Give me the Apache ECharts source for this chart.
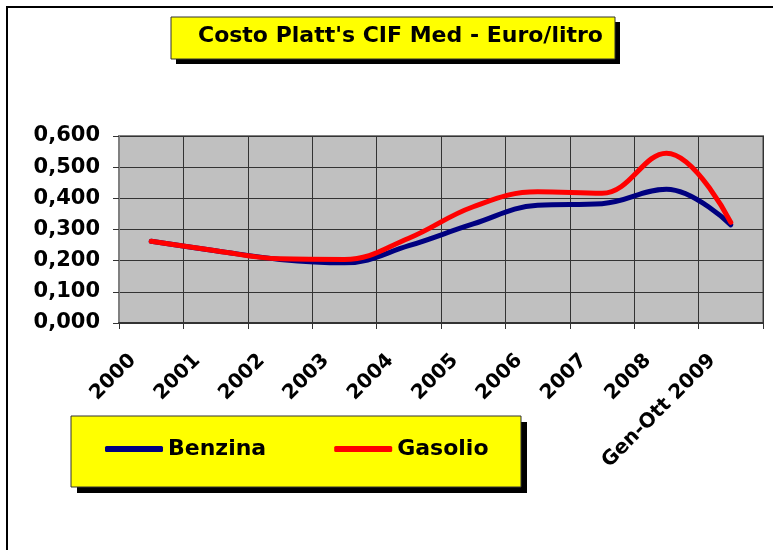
<!DOCTYPE html>
<html>
<head>
<meta charset="utf-8">
<script src="https://cdn.jsdelivr.net/npm/echarts@6/dist/echarts.min.js"></script>
<style>
  html, body { margin: 0; padding: 0; background: #fff; }
  #chart { width: 773px; height: 550px; }
</style>
</head>
<body>
<div id="chart"></div>
<script>
const years = ['2000', '2001', '2002', '2003', '2004', '2005', '2006', '2007', '2008', 'Gen-Ott 2009'];
const benzina = [0.262, 0.232, 0.204, 0.193, 0.248, 0.318, 0.378, 0.383, 0.429, 0.315];
const gasolio = [0.262, 0.232, 0.206, 0.204, 0.272, 0.373, 0.421, 0.416, 0.545, 0.323];
const yTicks = { min: 0, max: 0.6, step: 0.1 };

const FONT = '"DejaVu Sans", Verdana, sans-serif';
const chart = echarts.init(document.getElementById('chart'));

chart.setOption({
  animation: false,
  backgroundColor: '#fff',
  graphic: [
    // cornice esterna
    { type: 'rect', shape: { x: 7, y: 7, width: 820, height: 600 }, style: { fill: 'none', stroke: '#000', lineWidth: 2 }, z: -10 },
    // box titolo con ombra
    { type: 'rect', shape: { x: 176, y: 22, width: 444, height: 42 }, style: { fill: '#000' }, z: -5 },
    { type: 'rect', shape: { x: 171, y: 17, width: 444, height: 42 }, style: { fill: '#FFFF00', stroke: '#333', lineWidth: 1 }, z: -4 },
    // box legenda con ombra
    { type: 'rect', shape: { x: 77, y: 422, width: 450, height: 71 }, style: { fill: '#000' }, z: -5 },
    { type: 'rect', shape: { x: 71, y: 416, width: 450, height: 71 }, style: { fill: '#FFFF00', stroke: '#333', lineWidth: 1 }, z: -4 }
  ],
  title: {
    text: "Costo Platt's CIF Med - Euro/litro",
    left: 198,
    top: 25,
    padding: 0,
    textStyle: { fontFamily: FONT, fontSize: 22, fontWeight: 'bold', color: '#000' }
  },
  legend: {
    left: 105,
    top: 438,
    padding: 0,
    itemWidth: 58,
    itemHeight: 6,
    itemGap: 68,
    icon: 'roundRect',
    data: ['Benzina', 'Gasolio'],
    textStyle: { fontFamily: FONT, fontSize: 22, fontWeight: 'bold', color: '#000' }
  },
  grid: {
    left: 119,
    right: 10,
    top: 136,
    bottom: 227,
    show: true,
    backgroundColor: '#C0C0C0',
    borderColor: '#808080',
    borderWidth: 2
  },
  xAxis: {
    type: 'category',
    data: years,
    boundaryGap: true,
    axisLine: { lineStyle: { color: '#333', width: 2 } },
    axisTick: { show: true, length: 6, lineStyle: { color: '#333' } },
    splitLine: { show: true, lineStyle: { color: '#333', width: 1 } },
    axisLabel: {
      interval: 0,
      rotate: 45,
      margin: 16,
      padding: [0, 26, 0, 0],
      fontFamily: FONT,
      fontSize: 20,
      fontWeight: 'bold',
      color: '#000'
    }
  },
  yAxis: {
    type: 'value',
    min: yTicks.min,
    max: yTicks.max,
    interval: yTicks.step,
    axisLine: { show: true, lineStyle: { color: '#808080', width: 1 } },
    axisTick: { show: true, length: 6, lineStyle: { color: '#333' } },
    splitLine: { show: true, lineStyle: { color: '#333', width: 1 } },
    axisLabel: {
      margin: 19,
      fontFamily: FONT,
      fontSize: 21,
      fontWeight: 'bold',
      color: '#000',
      formatter: v => v.toFixed(3).replace('.', ',')
    }
  },
  series: [
    {
      name: 'Benzina',
      type: 'line',
      data: benzina,
      smooth: 0.4,
      showSymbol: false,
      symbol: 'none',
      lineStyle: { color: '#000080', width: 5, cap: 'round', join: 'round' },
      itemStyle: { color: '#000080' }
    },
    {
      name: 'Gasolio',
      type: 'line',
      data: gasolio,
      smooth: 0.4,
      showSymbol: false,
      symbol: 'none',
      lineStyle: { color: '#FF0000', width: 5, cap: 'round', join: 'round' },
      itemStyle: { color: '#FF0000' }
    }
  ]
});
</script>
</body>
</html>
